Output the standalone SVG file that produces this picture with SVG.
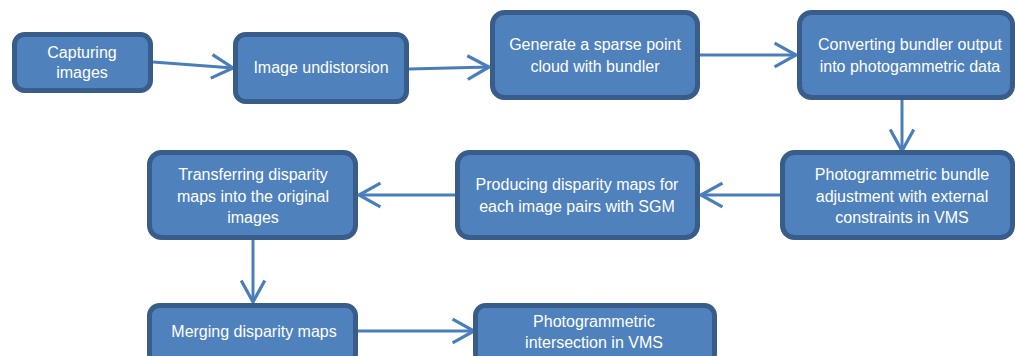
<svg xmlns="http://www.w3.org/2000/svg" width="1015" height="356" viewBox="0 0 1015 356">
<style>
.box{fill:#4F81BD;stroke:#385D8A;stroke-width:5}
.t{font-family:"Liberation Sans",Arial,sans-serif;font-size:16px;fill:#FFFFFF;text-anchor:middle}
.c{fill:none;stroke:#4A7EBB;stroke-width:3}
</style>
<defs>
<marker id="ah" markerUnits="userSpaceOnUse" markerWidth="30" markerHeight="30" viewBox="-24 -14 28 28" refX="0" refY="0" orient="auto" overflow="visible">
<path d="M-20,-11 L0,0 L-20,11" fill="none" stroke="#4A7EBB" stroke-width="3"/>
</marker>
</defs>
<rect width="1015" height="356" fill="#FFFFFF"/>
<g id="connectors">
<line class="c" x1="153" y1="62" x2="233" y2="68" marker-end="url(#ah)"/>
<line class="c" x1="409" y1="69" x2="489" y2="67" marker-end="url(#ah)"/>
<line class="c" x1="698" y1="55" x2="796" y2="55" marker-end="url(#ah)"/>
<line class="c" x1="902" y1="100" x2="902" y2="151" marker-end="url(#ah)"/>
<line class="c" x1="780" y1="195" x2="701" y2="195" marker-end="url(#ah)"/>
<line class="c" x1="455" y1="195" x2="359" y2="195" marker-end="url(#ah)"/>
<line class="c" x1="253" y1="240" x2="253" y2="302" marker-end="url(#ah)"/>
<line class="c" x1="357" y1="331" x2="474" y2="331" marker-end="url(#ah)"/>
</g>
<g id="n1"><rect class="box" x="14.5" y="34.5" width="136" height="56" rx="10"/>
<text class="t" x="82" y="58">Capturing</text><text class="t" x="82" y="78">images</text></g>
<g id="n2"><rect class="box" x="235.5" y="34.5" width="171" height="67" rx="10"/>
<text class="t" x="321" y="73">Image undistorsion</text></g>
<g id="n3"><rect class="box" x="492.5" y="12.5" width="205" height="85" rx="12"/>
<text class="t" x="595" y="50">Generate a sparse point</text><text class="t" x="595" y="72">cloud with bundler</text></g>
<g id="n4"><rect class="box" x="799.5" y="12.5" width="213" height="85" rx="12"/>
<text class="t" x="910" y="50">Converting bundler output</text><text class="t" x="910" y="72">into photogammetric data</text></g>
<g id="n5"><rect class="box" x="782.5" y="152.5" width="230" height="85" rx="12"/>
<text class="t" x="902" y="180">Photogrammetric bundle</text><text class="t" x="902" y="202">adjustment with external</text><text class="t" x="902" y="223">constraints in VMS</text></g>
<g id="n6"><rect class="box" x="457.5" y="152.5" width="240" height="85" rx="12"/>
<text class="t" x="577" y="190">Producing disparity maps for</text><text class="t" x="577" y="212">each image pairs with SGM</text></g>
<g id="n7"><rect class="box" x="149.5" y="152.5" width="206" height="85" rx="12"/>
<text class="t" x="253" y="180">Transferring disparity</text><text class="t" x="253" y="202">maps into the original</text><text class="t" x="253" y="223">images</text></g>
<g id="n8"><rect class="box" x="149.5" y="305.5" width="206" height="58" rx="10"/>
<text class="t" x="254" y="337">Merging disparity maps</text></g>
<g id="n9"><rect class="box" x="475.5" y="305.5" width="239" height="58" rx="10"/>
<text class="t" x="594" y="327">Photogrammetric</text><text class="t" x="594" y="348">intersection in VMS</text></g>
</svg>
